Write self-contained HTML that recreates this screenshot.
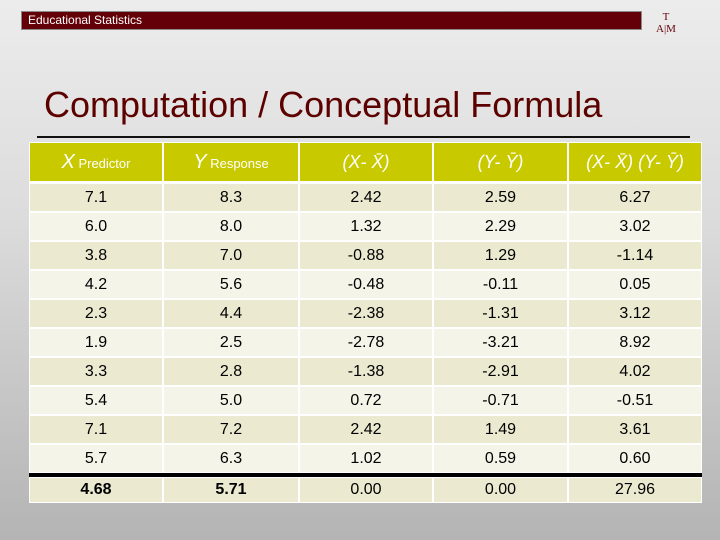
<!DOCTYPE html>
<html><head><meta charset="utf-8">
<style>
body{margin:0;width:720px;height:540px;overflow:hidden;font-family:"Liberation Sans",Arial,sans-serif;background:linear-gradient(#ececec 0%,#dcdcdc 40%,#b4b4b4 100%);position:relative}
.banner{position:absolute;left:21px;top:11px;width:621px;height:19px;background:#640008;border:1px solid #8a8a8a;box-sizing:border-box;color:#fff;font-size:12px;line-height:17px;padding-left:6px}
.logo{position:absolute;left:653px;top:11px;width:26px;height:24px;color:#640008;font-family:"Liberation Serif",serif;font-size:11px;text-align:center;line-height:12px}
.title{position:absolute;left:44px;top:84px;font-size:36px;color:#5c0000;white-space:nowrap}
.rule{position:absolute;left:37px;top:136px;width:653px;height:2px;background:#111}
.cell{position:absolute;box-sizing:border-box;text-align:center;font-size:16px;color:#000}
.hd{background:#c9c900;color:#fff;font-size:18px;font-style:italic}
</style></head><body>
<div class="banner">Educational Statistics</div>
<div class="logo">T<br>A|M</div>
<div class="title">Computation / Conceptual Formula</div>
<div class="rule"></div>
<div id="tbl"></div>
<script>
const colX=[29,163,299,433,568,702];
const headers=['<span style="font-size:20px">X</span><span style="font-size:13px;font-style:normal"> Predictor</span>','<span style="font-size:20px">Y</span><span style="font-size:13px;font-style:normal"> Response</span>','(X- X&#772;)','(Y- Y&#772;)','(X- X&#772;) (Y- Y&#772;)'];
const xVals=['7.1','6.0','3.8','4.2','2.3','1.9','3.3','5.4','7.1','5.7'];
const yVals=['8.3','8.0','7.0','5.6','4.4','2.5','2.8','5.0','7.2','6.3'];
const xDev=['2.42','1.32','-0.88','-0.48','-2.38','-2.78','-1.38','0.72','2.42','1.02'];
const yDev=['2.59','2.29','1.29','-0.11','-1.31','-3.21','-2.91','-0.71','1.49','0.59'];
const prod=['6.27','3.02','-1.14','0.05','3.12','8.92','4.02','-0.51','3.61','0.60'];
const totals=['4.68','5.71','0.00','0.00','27.96'];
const tbl=document.getElementById('tbl');
function cell(c,top,h,html,cls,bg){
  const d=document.createElement('div');
  d.className='cell '+cls;
  d.style.left=(colX[c]+1)+'px';d.style.top=top+'px';
  d.style.width=(colX[c+1]-colX[c]-2)+'px';d.style.height=h+'px';
  d.style.lineHeight=h+'px';
  if(bg)d.style.background=bg;
  d.innerHTML=html;
  
  
  tbl.appendChild(d);
}
const bgBack=document.createElement('div');
bgBack.style.cssText='position:absolute;left:29px;top:142px;width:673px;height:361px;background:#fff';


tbl.appendChild(bgBack);
for(let c=0;c<5;c++)cell(c,143,38,headers[c],'hd');
const cols=[xVals,yVals,xDev,yDev,prod];
for(let r=0;r<xVals.length;r++){
  const bg=r%2===0?'#ebead0':'#f4f4e8';
  for(let c=0;c<5;c++)cell(c,184+r*29,27,cols[c][r],'',bg);
}
const thick=document.createElement('div');
thick.style.cssText='position:absolute;left:29px;top:473px;width:673px;height:4px;background:#000';


tbl.appendChild(thick);
for(let c=0;c<5;c++)cell(c,478,24,c<2?'<b>'+totals[c]+'</b>':totals[c],'','#ebead0');
</script>
</body></html>
